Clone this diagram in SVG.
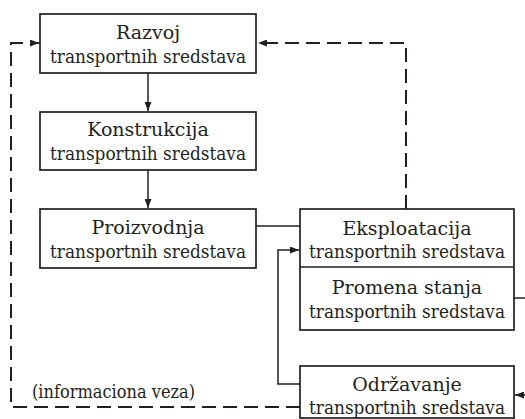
<svg xmlns="http://www.w3.org/2000/svg" width="525" height="419" viewBox="0 0 525 419">
<style>
.box{fill:#fff;stroke:#231f20;stroke-width:1.7}
.t{font-family:'DejaVu Serif',serif;font-size:18px;fill:#231f20;text-anchor:middle}
.h{font-size:19px}
.c{fill:none;stroke:#231f20;stroke-width:1.5}
.d{fill:none;stroke:#231f20;stroke-width:2;stroke-dasharray:14 7}
</style>
<defs>
<marker id="ah" markerWidth="9" markerHeight="7" refX="9" refY="3.5" orient="auto" markerUnits="userSpaceOnUse">
<path d="M0,0 L9,3.5 L0,7 Z" fill="#231f20"/>
</marker>
</defs>
<rect width="525" height="419" fill="#fff"/>
<g id="connectors">
<line class="c" x1="148" y1="73" x2="148" y2="111" marker-end="url(#ah)"/>
<line class="c" x1="148" y1="170" x2="148" y2="208" marker-end="url(#ah)"/>
<line class="c" x1="256" y1="226" x2="300" y2="226"/>
<path class="d" d="M406,209 V43 H258" marker-end="url(#ah)"/>
<path class="d" d="M300,407 H11 V43 H39" marker-end="url(#ah)"/>
<path class="c" d="M300,384 H278 V250 H299" marker-end="url(#ah)"/>
<line class="c" x1="514" y1="298" x2="525" y2="298"/>
<line class="c" x1="525" y1="395" x2="515" y2="395" marker-end="url(#ah)"/>
</g>
<g id="razvoj">
<rect class="box" x="40" y="14" width="216" height="59"/>
<text class="t h" x="148" y="39">Razvoj</text>
<text class="t" x="148" y="63" textLength="196" lengthAdjust="spacingAndGlyphs">transportnih sredstava</text>
</g>
<g id="konstrukcija">
<rect class="box" x="40" y="112" width="216" height="58"/>
<text class="t h" x="148" y="136">Konstrukcija</text>
<text class="t" x="148" y="160" textLength="196" lengthAdjust="spacingAndGlyphs">transportnih sredstava</text>
</g>
<g id="proizvodnja">
<rect class="box" x="40" y="209" width="216" height="59"/>
<text class="t h" x="148" y="234">Proizvodnja</text>
<text class="t" x="148" y="258" textLength="196" lengthAdjust="spacingAndGlyphs">transportnih sredstava</text>
</g>
<g id="eksploatacija">
<rect class="box" x="300" y="209" width="214" height="121"/>
<line class="c" x1="300" y1="267" x2="514" y2="267"/>
<text class="t h" x="407" y="235">Eksploatacija</text>
<text class="t" x="407" y="258" textLength="196" lengthAdjust="spacingAndGlyphs">transportnih sredstava</text>
<text class="t h" x="407" y="294">Promena stanja</text>
<text class="t" x="407" y="318" textLength="196" lengthAdjust="spacingAndGlyphs">transportnih sredstava</text>
</g>
<g id="odrzavanje">
<rect class="box" x="300" y="366" width="214" height="52"/>
<text class="t h" x="407" y="391">Održavanje</text>
<text class="t" x="407" y="414" textLength="196" lengthAdjust="spacingAndGlyphs">transportnih sredstava</text>
</g>
<text class="t" x="32" y="398" style="text-anchor:start" textLength="163" lengthAdjust="spacingAndGlyphs">(informaciona veza)</text>
</svg>
